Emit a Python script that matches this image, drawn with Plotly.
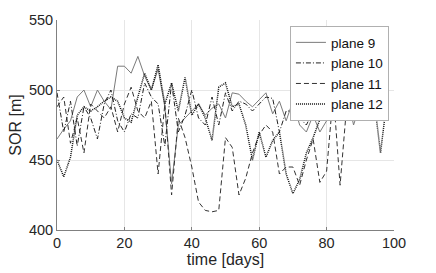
import plotly.graph_objects as go

days = list(range(0, 100, 2))

plane9 = [465, 472, 478, 495, 500, 488, 500, 492, 486, 517,
          517, 512, 524, 510, 500, 515, 488, 433, 475, 480,
          485, 490, 482, 487, 490, 480, 498, 497, 492, 488,
          493, 498, 483, 492, 478, 492, 475, 470, 482, 470,
          478, 490, 485, 498, 475, 490, 480, 500, 485, 490]

plane10 = [498, 470, 492, 460, 488, 480, 465, 490, 500, 478,
           470, 483, 480, 505, 495, 490, 460, 505, 470, 482,
           500, 480, 475, 495, 475, 498, 485, 492, 490, 485,
           490, 495, 494, 470, 485, 485, 480, 475, 485, 480,
           485, 495, 490, 480, 500, 490, 485, 495, 490, 478]

plane11 = [488, 495, 462, 480, 455, 490, 485, 480, 488, 470,
           490, 502, 485, 480, 492, 440, 490, 425, 480, 466,
           445, 420, 414, 413, 414, 466, 459, 425, 437, 455,
           468, 475, 470, 440, 445, 445, 432, 450, 465, 434,
           442, 498, 432, 490, 480, 495, 486, 492, 480, 495]

plane12 = [450, 438, 452, 482, 488, 485, 488, 492, 495, 492,
           480, 477, 495, 512, 500, 518, 490, 505, 485, 509,
           482, 490, 480, 464, 502, 505, 488, 490, 475, 450,
           470, 452, 464, 470, 440, 426, 436, 455, 466, 479,
           490, 500, 485, 498, 480, 500, 488, 495, 455, 495]

series = [
    ("plane 9", plane9, dict(color="#7a7a7a", width=1, dash="solid")),
    ("plane 10", plane10, dict(color="#222222", width=1, dash="5px,2px,1px,2px")),
    ("plane 11", plane11, dict(color="#333333", width=1, dash="5px,3px")),
    ("plane 12", plane12, dict(color="#111111", width=1.5, dash="1px,1px")),
]

fig = go.Figure()
for name, vals, line in series:
    fig.add_trace(go.Scatter(x=days, y=vals, mode="lines", name=name, line=line))

axis_common = dict(
    showgrid=True, gridcolor="#e6e6e6", gridwidth=1,
    showline=True, linecolor="#808080", linewidth=1,
    ticks="inside", ticklen=3, tickcolor="#808080",
    zeroline=False, mirror=False, automargin=False,
    tickfont=dict(family="Liberation Sans, Arial", size=14.5, color="#262626"),
    title_font=dict(family="Liberation Sans, Arial", size=16, color="#262626"),
)

fig.update_xaxes(range=[0, 100], tickvals=[0, 20, 40, 60, 80, 100],
                 title_text="time [days]", title_standoff=3, **axis_common)
fig.update_yaxes(range=[400, 550], tickvals=[400, 450, 500, 550],
                 title_text="SOR [m]", title_standoff=3, **axis_common)

fig.update_layout(
    width=436, height=273,
    margin=dict(l=57, r=42, t=20, b=43),
    paper_bgcolor="white", plot_bgcolor="white",
    showlegend=True,
    legend=dict(
        x=0.985, y=0.971, xanchor="right", yanchor="top",
        bgcolor="white", bordercolor="#b0b0b0", borderwidth=1,
        font=dict(family="Liberation Sans, Arial", size=13.5, color="#111111"),
        itemwidth=30, tracegroupgap=0,
    ),
)

fig.write_html("out.html",
               config={"displayModeBar": False},
               post_script="document.body.style.margin='0';document.body.style.overflow='hidden';")
